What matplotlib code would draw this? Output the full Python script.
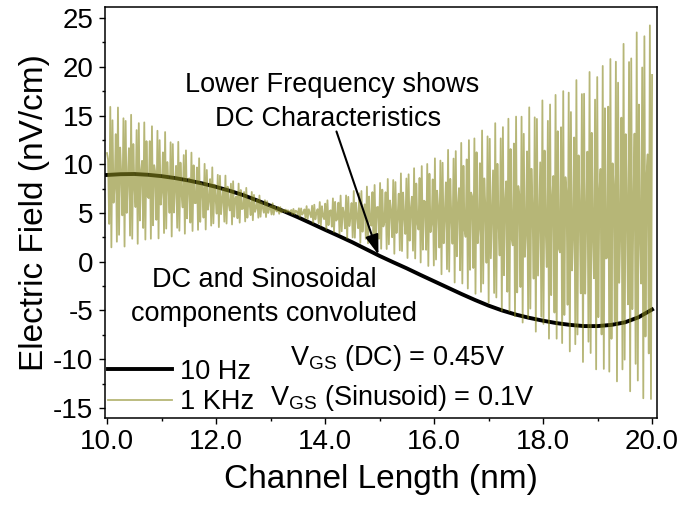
import numpy as np
import matplotlib.pyplot as plt

plt.rcParams['font.family'] = ['Liberation Sans', 'DejaVu Sans']
plt.rcParams['mathtext.fontset'] = 'custom'
plt.rcParams['mathtext.rm'] = 'Liberation Sans'
plt.rcParams['axes.unicode_minus'] = False

# 10 Hz trace
x_10hz = [10.0, 10.25, 10.5, 10.75, 11.0, 11.25, 11.5, 11.75, 12.0, 12.25, 12.5,
          12.75, 13.0, 13.25, 13.5, 13.75, 14.0, 14.25, 14.5, 14.75, 15.0,
          15.25, 15.5, 15.75, 16.0, 16.25, 16.5, 16.75, 17.0, 17.25, 17.5,
          17.75, 18.0, 18.25, 18.5, 18.75, 19.0, 19.25, 19.5, 19.75, 20.0]
e_10hz = [8.9, 8.98, 9.0, 8.92, 8.78, 8.58, 8.33, 8.03, 7.68, 7.28, 6.83,
          6.3, 5.75, 5.17, 4.57, 3.93, 3.28, 2.65, 2.0, 1.3, 0.6,
          -0.05, -0.68, -1.35, -2.0, -2.65, -3.3, -3.92, -4.5, -5.0, -5.42,
          -5.76, -6.05, -6.3, -6.48, -6.6, -6.6, -6.48, -6.22, -5.7, -4.9]

# 1 KHz trace: tips of the oscillation (upper / lower envelope)
x_env = [10.0, 10.5, 11.0, 11.5, 12.0, 12.5, 13.0, 13.3, 13.6, 14.0, 14.5,
         15.0, 15.5, 16.0, 16.5, 17.0, 17.5, 18.0, 18.5, 19.0, 19.5, 20.0]
upper_env = [16.5, 14.9, 13.6, 11.5, 9.4, 7.8, 6.1, 5.3, 5.6, 6.3, 7.2,
             8.2, 9.3, 10.6, 12.3, 13.9, 15.2, 16.6, 18.3, 20.0, 22.5, 25.0]
lower_env = [1.3, 1.7, 2.4, 2.9, 3.5, 4.0, 4.7, 5.1, 4.5, 3.4, 2.2,
             1.3, 0.4, -0.8, -2.6, -4.2, -6.0, -7.6, -9.4, -11.3, -12.9, -14.9]

x_ticks = [10, 12, 14, 16, 18, 20]
y_ticks = [-15, -10, -5, 0, 5, 10, 15, 20, 25]

# sampled 1 KHz drive: centre and amplitude come from the envelope above
n_samples = 498
x_1k = np.linspace(x_env[0], x_env[-1], n_samples)
upper = np.interp(x_1k, x_env, upper_env)
lower = np.interp(x_1k, x_env, lower_env)
centre = (upper + lower) / 2
amp = (upper - lower) / 2
carrier = np.sin(2 * np.pi * (5 / 12 + 0.002) * np.arange(n_samples) + 0.3)
e_1k = centre + amp * carrier

fig = plt.figure(figsize=(6.83, 5.07), dpi=100)
ax = fig.add_axes([0.1537, 0.1761, 0.8082, 0.8095])

ax.plot(x_10hz, e_10hz, color='black', lw=2.8, label='10 Hz', zorder=2)
ax.plot(x_1k, e_1k, color='#86861c', lw=1.3, alpha=0.6, label='1 KHz', zorder=3)

ax.set_xlim(9.963, 20.09)
ax.set_ylim(-16.0, 26.1)
ax.set_xticks(x_ticks)
ax.set_xticklabels(['%.1f' % t for t in x_ticks])
ax.set_xticks([11, 13, 15, 17, 19], minor=True)
ax.set_yticks(y_ticks)
ax.set_yticks(np.arange(-12.5, 25, 5), minor=True)
ax.tick_params(which='both', direction='out', width=1.0, labelsize=20, pad=4)
ax.tick_params(which='major', length=4.3)
ax.tick_params(which='minor', length=2.2)
ax.tick_params(top=False, right=False)
for sp in ax.spines.values():
    sp.set_linewidth(1.1)

ax.set_xlabel('Channel Length (nm)', fontsize=24, labelpad=6)
ax.set_ylabel('Electric Field (nV/cm)', fontsize=24, labelpad=2)

# annotations
ax.text(14.13, 17.38, 'Lower Frequency shows', fontsize=19.5, ha='center', va='baseline')
ax.text(14.05, 13.96, 'DC Characteristics', fontsize=19.5, ha='center', va='baseline')
ax.annotate('', xy=(14.98, 0.72), xytext=(14.21, 13.36),
            arrowprops=dict(arrowstyle='-|>,head_length=0.6,head_width=0.2',
                            color='black', lw=1.5, mutation_scale=20,
                            shrinkA=0, shrinkB=0), zorder=5)
ax.text(12.88, -2.64, 'DC and Sinosoidal', fontsize=19.5, ha='center', va='baseline')
ax.text(13.07, -6.06, 'components convoluted', fontsize=19.5, ha='center', va='baseline')
ax.text(13.36, -10.58, r'$\mathregular{V_{GS}}$ (DC) = 0.45V', fontsize=19.5, va='baseline')
ax.text(12.99, -14.68, r'$\mathregular{V_{GS}}$ (Sinusoid) = 0.1V', fontsize=19.5, va='baseline')

ax.legend(loc='lower left', bbox_to_anchor=(0.0, 0.0), frameon=False, fontsize=19.5,
          handlelength=2.37, handletextpad=0.3, labelspacing=0.15,
          borderpad=0.1, borderaxespad=0.0)

fig.savefig('out.png', dpi=100)
